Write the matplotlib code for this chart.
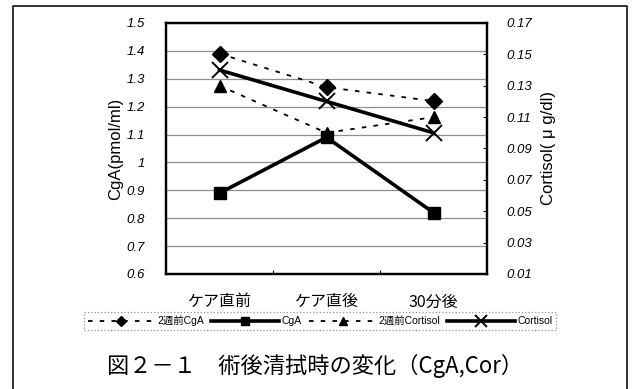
import matplotlib
matplotlib.use("Agg")
import matplotlib.pyplot as plt
from matplotlib.lines import Line2D
from matplotlib.ticker import FuncFormatter, FixedLocator

plt.rcParams['font.family'] = ['Liberation Sans', 'Noto Sans CJK JP', 'DejaVu Sans']

categories = ['ケア直前', 'ケア直後', '30分後']
cga_2w = [1.39, 1.27, 1.22]        # 2週前CgA (left axis)
cga = [0.89, 1.09, 0.82]           # CgA (left axis)
cortisol_2w = [0.13, 0.10, 0.11]   # 2週前Cortisol (right axis)
cortisol = [0.14, 0.12, 0.10]      # Cortisol (right axis)

left_ticks = [0.6, 0.7, 0.8, 0.9, 1.0, 1.1, 1.2, 1.3, 1.4, 1.5]
right_ticks = [0.01, 0.03, 0.05, 0.07, 0.09, 0.11, 0.13, 0.15, 0.17]

W, H = 633, 389
fig = plt.figure(figsize=(W / 100, H / 100), dpi=100)
fig.patch.set_facecolor('white')

# outer frame (open at the bottom)
fig.add_artist(Line2D([13 / W, 13 / W, 627 / W, 627 / W],
                      [0, 1 - 6 / H, 1 - 6 / H, 0],
                      transform=fig.transFigure, color='#333333', lw=1.4))

ax = fig.add_axes([166 / W, 1 - 274 / H, (487 - 166) / W, (274 - 23) / H])
ax2 = ax.twinx()

x = list(range(len(categories)))
ax.set_xlim(-0.5, len(categories) - 0.5)
ax.set_ylim(0.6, 1.5)
ax2.set_ylim(0.01, 0.17)

ax.set_yticks(left_ticks)
ax.yaxis.set_major_formatter(FuncFormatter(lambda v, p: f'{v:g}'))
ax.tick_params(axis='y', length=0, pad=15, labelsize=9.5)
for t in ax.get_yticklabels():
    t.set_fontstyle('italic')
ax.grid(axis='y', color='#8f8f8f', lw=0.9)
ax.set_axisbelow(True)

ax.set_xticks(x)
ax.set_xticklabels(categories, fontsize=11.5, family=['Noto Sans CJK JP'])
ax.xaxis.set_minor_locator(FixedLocator([0.5, 1.5]))
ax.tick_params(axis='x', which='major', length=0, pad=14)
ax.tick_params(axis='x', which='minor', direction='in', length=3, width=0.8)

ax2.set_yticks(right_ticks)
ax2.yaxis.set_major_formatter(FuncFormatter(lambda v, p: f'{v:.2f}'))
ax2.tick_params(axis='y', direction='in', length=3, width=0.8, pad=14, labelsize=9.5)
for t in ax2.get_yticklabels():
    t.set_fontstyle('italic')

for a in (ax, ax2):
    for s in a.spines.values():
        s.set_linewidth(1.6)
        s.set_color('black')

ax.set_ylabel('CgA(pmol/ml)', fontsize=12, labelpad=3)
ax2.set_ylabel('Cortisol( μ g/dl)', fontsize=12, labelpad=6, rotation=90)

dash = (0, (2.5, 4))
l1, = ax.plot(x, cga_2w, color='black', lw=1.3, ls=dash, marker='D', ms=8,
              label='2週前CgA', zorder=3)
l2, = ax.plot(x, cga, color='black', lw=2.6, marker='s', ms=9,
              label='CgA', zorder=3)
l3, = ax2.plot(x, cortisol_2w, color='black', lw=1.3, ls=dash, marker='^', ms=9,
               label='2週前Cortisol', zorder=3)
l4, = ax2.plot(x, cortisol, color='black', lw=2.6, marker='x', ms=12, mew=1.4,
               label='Cortisol', zorder=3)

leg = fig.legend(handles=[l1, l2, l3, l4], loc='center', ncol=4,
                 bbox_to_anchor=(320 / W, 1 - 321 / H), fontsize=7.5,
                 handlelength=6.5, handletextpad=0.2, columnspacing=0.7,
                 markerscale=0.7, frameon=True, fancybox=False,
                 borderpad=0.35)
leg.get_frame().set_edgecolor('#777777')
leg.get_frame().set_linestyle(':')
leg.get_frame().set_linewidth(0.9)

fig.text(315 / W, 1 - 366 / H, '図２－１　術後清拭時の変化（CgA,Cor）',
         ha='center', va='center', fontsize=16, family=['Noto Sans CJK JP'])

fig.savefig('out.png', dpi=100, facecolor='white')
